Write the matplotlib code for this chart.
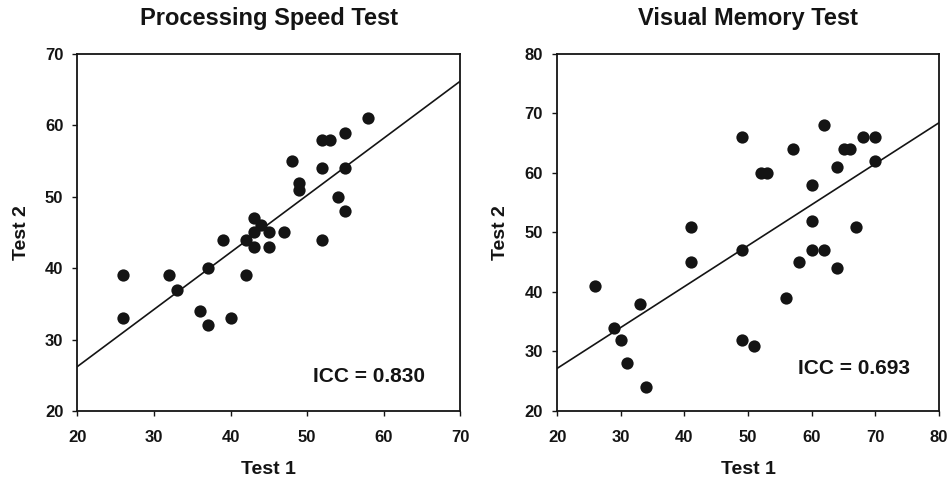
import numpy as np
import matplotlib
matplotlib.use("Agg")
import matplotlib.pyplot as plt

plt.rcParams["font.family"] = ["Liberation Sans", "DejaVu Sans"]
plt.rcParams["font.weight"] = "bold"

# Processing speed test
speed_test1 = [26, 26, 32, 33, 37, 36, 37, 39, 40, 42, 42, 43, 43, 43, 44,
               45, 45, 47, 48, 49, 49, 52, 53, 52, 52, 55, 55, 54, 55, 58]
speed_test2 = [39, 33, 39, 37, 40, 34, 32, 44, 33, 44, 39, 47, 45, 43, 46,
               45, 43, 45, 55, 52, 51, 58, 58, 54, 44, 59, 54, 50, 48, 61]
speed_icc = "ICC = 0.830"

# Visual memory test
memory_test1 = [26, 29, 30, 31, 33, 34, 41, 41, 49, 49, 49, 51, 52, 53, 56,
                57, 58, 60, 60, 60, 62, 62, 64, 64, 65, 66, 67, 68, 70, 70]
memory_test2 = [41, 34, 32, 28, 38, 24, 51, 45, 66, 47, 32, 31, 60, 60, 39,
                64, 45, 58, 52, 47, 68, 47, 61, 44, 64, 64, 51, 66, 66, 62]
memory_icc = "ICC = 0.693"


def draw_panel(ax, x, y, title, icc, xlim, ylim, ticks_x, ticks_y, icc_pos):
    ax.scatter(x, y, s=78, color="#141414", zorder=3, linewidths=0)
    slope, intercept = np.polyfit(x, y, 1)
    xs = np.array(xlim)
    ax.plot(xs, slope * xs + intercept, color="#141414", lw=1.2, zorder=2)
    ax.set_xlim(xlim)
    ax.set_ylim(ylim)
    ax.set_xticks(ticks_x)
    ax.set_yticks(ticks_y)
    ax.tick_params(direction="out", length=3.6, width=1, labelsize=12, colors="#141414")
    ax.tick_params(axis="x", pad=10)
    ax.tick_params(axis="y", pad=6.5)
    for label in ax.get_xticklabels() + ax.get_yticklabels():
        label.set_fontweight("bold")
    for spine in ax.spines.values():
        spine.set_linewidth(1.3)
        spine.set_color("#141414")
    ax.set_title(title, fontsize=17, fontweight="bold", pad=21, color="#141414")
    ax.set_xlabel("Test 1", fontsize=14, fontweight="bold", labelpad=11.5, color="#141414")
    ax.set_ylabel("Test 2", fontsize=14, fontweight="bold", labelpad=11, color="#141414")
    ax.text(icc_pos[0], icc_pos[1], icc, fontsize=15, fontweight="bold",
            ha="right", va="center", color="#141414")


def main():
    fig = plt.figure(figsize=(9.49, 4.82), dpi=100)
    ax1 = fig.add_axes([0.0815, 0.1473, 0.4036, 0.7407])
    ax2 = fig.add_axes([0.587, 0.1473, 0.4025, 0.7407])
    draw_panel(ax1, speed_test1, speed_test2, "Processing Speed Test", speed_icc,
               (20, 70), (20, 70), range(20, 71, 10), range(20, 71, 10), (65.4, 24.8))
    draw_panel(ax2, memory_test1, memory_test2, "Visual Memory Test", memory_icc,
               (20, 80), (20, 80), range(20, 81, 10), range(20, 81, 10), (75.4, 27.2))
    fig.savefig("out.png", dpi=100)


if __name__ == "__main__":
    main()
